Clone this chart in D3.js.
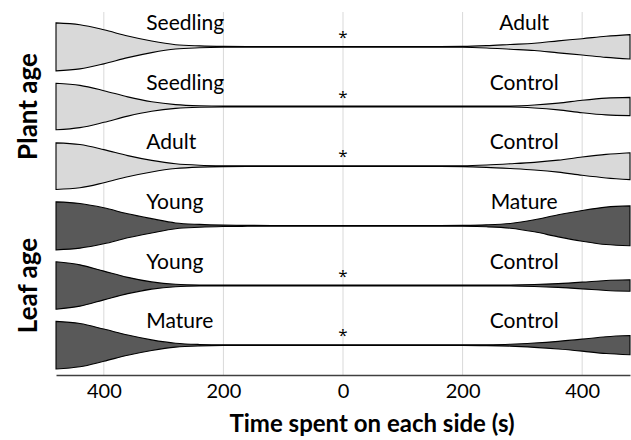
<!DOCTYPE html>
<html>
<head>
<meta charset="utf-8">
<script src="https://cdn.jsdelivr.net/npm/d3@7.9.0/dist/d3.min.js"></script>
<style>
  body { margin: 0; background: #fff; }
  svg text { font-family: Lato, "Open Sans", sans-serif; fill: #000; }
</style>
</head>
<body>
<svg id="chart" width="631" height="440"></svg>
<script>
// distance from the centre (s), same order for both sides
const sidePoints = [480, 440, 400, 360, 320, 280, 240, 200, 160, 120, 80, 40, 0];

const groups = ['Plant age', 'Plant age', 'Plant age', 'Leaf age', 'Leaf age', 'Leaf age'];
const leftLabels = ['Seedling', 'Seedling', 'Adult', 'Young', 'Young', 'Mature'];
const rightLabels = ['Adult', 'Control', 'Control', 'Mature', 'Control', 'Control'];
const significant = [true, true, true, false, true, true];

// relative density on the left side of each comparison
const leftDensity = [
  [1.00, 0.92, 0.71, 0.45, 0.24, 0.09, 0.04, 0.02, 0.015, 0.015, 0.015, 0.015, 0.015],
  [0.97, 0.88, 0.66, 0.40, 0.20, 0.08, 0.03, 0.015, 0.015, 0.015, 0.015, 0.015, 0.015],
  [0.97, 0.90, 0.69, 0.44, 0.24, 0.10, 0.04, 0.02, 0.015, 0.015, 0.015, 0.015, 0.015],
  [1.00, 0.93, 0.75, 0.50, 0.30, 0.12, 0.06, 0.03, 0.02, 0.015, 0.015, 0.015, 0.015],
  [0.99, 0.86, 0.60, 0.34, 0.15, 0.05, 0.02, 0.015, 0.015, 0.015, 0.015, 0.015, 0.015],
  [0.99, 0.90, 0.67, 0.42, 0.22, 0.08, 0.03, 0.015, 0.015, 0.015, 0.015, 0.015, 0.015],
];

// relative density on the right side
const rightDensity = [
  [0.51, 0.44, 0.34, 0.25, 0.15, 0.10, 0.05, 0.02, 0.015, 0.015, 0.015, 0.015, 0.015],
  [0.38, 0.35, 0.26, 0.14, 0.06, 0.02, 0.015, 0.015, 0.015, 0.015, 0.015, 0.015, 0.015],
  [0.56, 0.49, 0.38, 0.25, 0.16, 0.10, 0.05, 0.02, 0.015, 0.015, 0.015, 0.015, 0.015],
  [0.83, 0.78, 0.64, 0.46, 0.25, 0.10, 0.04, 0.02, 0.015, 0.015, 0.015, 0.015, 0.015],
  [0.24, 0.21, 0.14, 0.08, 0.04, 0.02, 0.015, 0.015, 0.015, 0.015, 0.015, 0.015, 0.015],
  [0.40, 0.35, 0.25, 0.16, 0.09, 0.04, 0.02, 0.015, 0.015, 0.015, 0.015, 0.015, 0.015],
];

const xTicks = [-400, -200, 0, 200, 400];

const svg = d3.select('#chart');

const x = d3.scaleLinear().domain([-480, 480]).range([56, 630]);
const y = d3.scaleBand().domain(d3.range(6)).range([17, 375]);
const w = d3.scaleLinear().domain([0, 1]).range([0, 24]);

// gridlines
svg.append('g')
  .selectAll('line')
  .data(xTicks)
  .join('line')
  .attr('x1', d => x(d))
  .attr('x2', d => x(d))
  .attr('y1', 12)
  .attr('y2', 375)
  .attr('stroke', '#d9d9d9')
  .attr('stroke-width', 1);

// build the profile for each row, left side then right side
const rows = d3.range(6).map(i => {
  const left = sidePoints.map((s, j) => ({ t: -s, v: leftDensity[i][j] }));
  const right = sidePoints.slice().reverse().map((s, j) => ({ t: s, v: rightDensity[i][sidePoints.length - 1 - j] }));
  return { i, group: groups[i], pts: left.concat(right.slice(1)) };
});

rows.forEach(r => {
  const cy = y(r.i) + y.bandwidth() / 2;
  const area = d3.area()
    .x(d => x(d.t))
    .y0(d => cy + w(d.v))
    .y1(d => cy - w(d.v))
    .curve(d3.curveMonotoneX);

  svg.append('path')
    .datum(r.pts)
    .attr('d', d => area(d) + 'Z')
    .attr('fill', r.group === 'Plant age' ? '#d9d9d9' : '#595959')
    .attr('stroke', '#000')
    .attr('stroke-width', 1.1);
});

// labels for each comparison
svg.append('g')
  .selectAll('text')
  .data(leftLabels)
  .join('text')
  .attr('x', x(-329))
  .attr('y', (d, i) => y(i) + y.bandwidth() / 2 - 17)
  .attr('font-size', 21)
  .text(d => d);

svg.append('g')
  .selectAll('text')
  .data(rightLabels)
  .join('text')
  .attr('x', x(303))
  .attr('y', (d, i) => y(i) + y.bandwidth() / 2 - 17)
  .attr('text-anchor', 'middle')
  .attr('font-size', 21)
  .text(d => d);

// significance stars
svg.append('g')
  .selectAll('text')
  .data(d3.range(6).filter(i => significant[i]))
  .join('text')
  .attr('x', x(0))
  .attr('y', i => y(i) + y.bandwidth() / 2 - 4)
  .attr('text-anchor', 'middle')
  .attr('font-size', 17)
  .style('font-family', '"Open Sans", sans-serif')
  .text('*');

// x axis
const xAxis = d3.axisBottom(x)
  .tickValues(xTicks)
  .tickFormat(d => Math.abs(d))
  .tickSize(0)
  .tickPadding(9);

const gx = svg.append('g')
  .attr('transform', 'translate(0,375)')
  .call(xAxis);

gx.select('.domain').attr('stroke', '#404040').attr('stroke-width', 1.5);
gx.selectAll('text')
  .attr('font-size', 20)
  .style('font-family', 'Lato, sans-serif')
  .attr('fill', '#000');

svg.append('text')
  .attr('x', 372)
  .attr('y', 432)
  .attr('text-anchor', 'middle')
  .attr('font-size', 24)
  .attr('font-weight', 'bold')
  .text('Time spent on each side (s)');

// group labels on the left
const groupNames = ['Plant age', 'Leaf age'];
svg.append('g')
  .selectAll('text')
  .data(groupNames)
  .join('text')
  .attr('transform', (d, i) => {
    const cy = y(i * 3 + 1) + y.bandwidth() / 2;
    return `translate(37,${cy}) rotate(-90)`;
  })
  .attr('text-anchor', 'middle')
  .attr('font-size', 26)
  .attr('font-weight', 'bold')
  .text(d => d);
</script>
</body>
</html>
